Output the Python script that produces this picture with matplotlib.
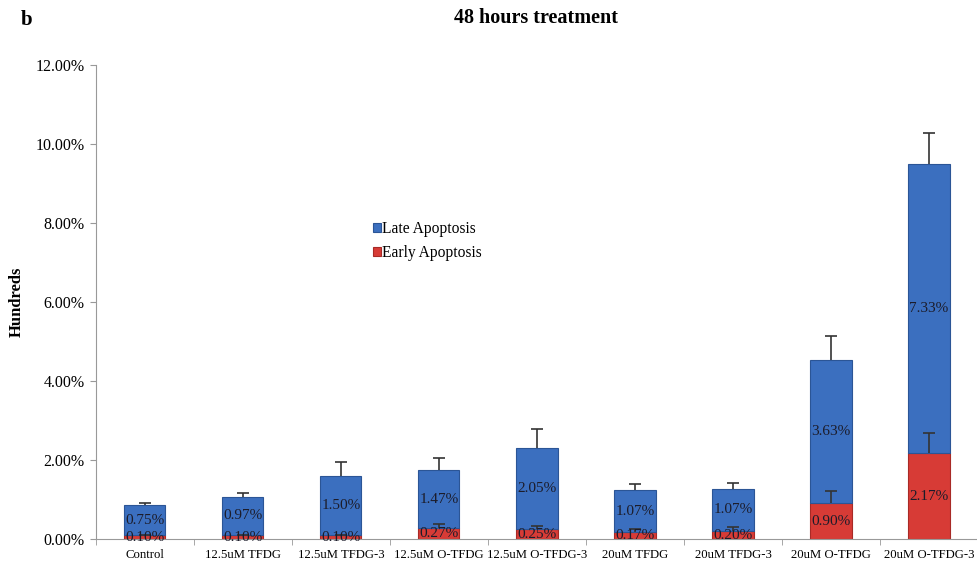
import numpy as np
import matplotlib
matplotlib.use('Agg')
import matplotlib.pyplot as plt
from matplotlib.ticker import FuncFormatter, FixedLocator

plt.rcParams['font.family'] = ['Liberation Serif', 'DejaVu Serif']

groups = ['Control', '12.5uM TFDG', '12.5uM TFDG-3', '12.5uM O-TFDG', '12.5uM O-TFDG-3',
          '20uM TFDG', '20uM TFDG-3', '20uM O-TFDG', '20uM O-TFDG-3']
early = [0.10, 0.10, 0.10, 0.27, 0.25, 0.17, 0.20, 0.90, 2.17]
late = [0.75, 0.97, 1.50, 1.47, 2.05, 1.07, 1.07, 3.63, 7.33]
early_err = [0.0, 0.0, 0.0, 0.12, 0.08, 0.08, 0.10, 0.31, 0.51]
total_err = [0.07, 0.09, 0.34, 0.32, 0.48, 0.15, 0.15, 0.61, 0.78]

blue = '#3b6fbf'
red = '#d73b36'

fig = plt.figure(figsize=(9.78, 5.68), dpi=100)
ax = fig.add_axes([0.098, 0.051, 0.902, 0.835])

x = np.arange(len(groups))
early = np.array(early)
late = np.array(late)
w = 0.42

b1 = ax.bar(x, early, width=w, color=red, edgecolor='#a82a26', linewidth=0.8,
            label='Early Apoptosis', zorder=2)
b2 = ax.bar(x, late, width=w, bottom=early, color=blue, edgecolor='#2b5596',
            linewidth=0.8, label='Late Apoptosis', zorder=2)

# upward-only error bars, cap only on top
for base, err in [(early, early_err), (early + late, total_err)]:
    eb = ax.errorbar(x, base, yerr=[np.zeros(len(x)), err], fmt='none',
                     ecolor='#333333', elinewidth=1.2, capsize=4, capthick=1.2, zorder=3)
    eb[1][0].set_visible(False)

for xi, e, l in zip(x, early, late):
    ax.text(xi, e / 2, f'{e:.2f}%', ha='center', va='center', fontsize=11,
            color='#1c1c2a', zorder=4)
    ax.text(xi, e + l / 2, f'{l:.2f}%', ha='center', va='center', fontsize=11,
            color='#1c1c2a', zorder=4)

ax.set_xlim(-0.5, len(groups) - 0.5)
ax.set_ylim(0, 12)
ax.set_yticks(np.arange(0, 12.1, 2))
ax.yaxis.set_major_formatter(FuncFormatter(lambda v, p: f'{v:.2f}%'))
ax.set_xticks(x)
ax.set_xticklabels(groups, fontsize=9.2)
ax.xaxis.set_minor_locator(FixedLocator(np.arange(-0.5, len(groups), 1.0)))
ax.tick_params(axis='x', which='major', length=0, pad=7)
ax.tick_params(axis='x', which='minor', length=4, color='#999999')
ax.tick_params(axis='y', labelsize=11.5, length=4, pad=4, color='#999999')

for s in ['top', 'right']:
    ax.spines[s].set_visible(False)
for s in ['left', 'bottom']:
    ax.spines[s].set_color('#999999')

ax.set_ylabel('Hundreds', fontsize=12, fontweight='bold', labelpad=8)

handles = [b2, b1]
ax.legend(handles, ['Late Apoptosis', 'Early Apoptosis'], loc='upper left',
          bbox_to_anchor=(0.298, 0.70), frameon=False, fontsize=11.2,
          handlelength=0.5, handleheight=0.5, handletextpad=0.1, labelspacing=0.5)

fig.text(0.548, 0.968, '48 hours treatment', ha='center', va='center',
         fontsize=14.5, fontweight='bold')
fig.text(0.027, 0.965, 'b', ha='center', va='center', fontsize=15, fontweight='bold')

fig.savefig('out.png', dpi=100)
